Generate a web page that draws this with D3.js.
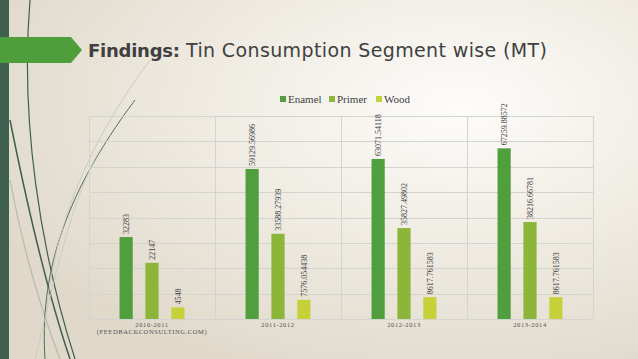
<!DOCTYPE html>
<html>
<head>
    <title>Tin Consumption Segment wise</title>
    <script src="https://cdnjs.cloudflare.com/ajax/libs/d3/7.8.5/d3.min.js"></script>
    <style>
        body { margin: 0; overflow: hidden; }
        svg { display: block; }
    </style>
</head>
<body>
    <div id="chart"></div>

    <script>
        // Data
        const years = ['2010-2011', '2011-2012', '2012-2013', '2013-2014'];
        const seriesNames = ['Enamel', 'Primer', 'Wood'];
        const enamel = [32283, 59129.56986, 63071.54118, 67259.88572];
        const primer = [22147, 33588.27939, 35827.49802, 38216.66781];
        const wood = [4548, 7576.054438, 8617.761583, 8617.761583];
        const valueLabels = [
            ['32283', '59129.56986', '63071.54118', '67259.88572'],
            ['22147', '33588.27939', '35827.49802', '38216.66781'],
            ['4548', '7576.054438', '8617.761583', '8617.761583']
        ];
        const yTicks = [0, 10000, 20000, 30000, 40000, 50000, 60000, 70000, 80000];

        const colors = {Enamel: '#519e3e', Primer: '#8cb63a', Wood: '#c6d13a'};
        const values = {Enamel: enamel, Primer: primer, Wood: wood};

        const width = 638;
        const height = 359;
        const plot = {left: 89, right: 593, top: 116, bottom: 319};

        const svg = d3.select('#chart')
            .append('svg')
            .attr('width', width)
            .attr('height', height);

        // Background
        const defs = svg.append('defs');
        const bg = defs.append('radialGradient')
            .attr('id', 'bg')
            .attr('cx', '0.72').attr('cy', '0.3').attr('r', '0.8');
        bg.append('stop').attr('offset', '0%').attr('stop-color', '#fdfcfa');
        bg.append('stop').attr('offset', '50%').attr('stop-color', '#efebe2');
        bg.append('stop').attr('offset', '100%').attr('stop-color', '#e0d9ca');
        svg.append('rect').attr('width', width).attr('height', height).attr('fill', 'url(#bg)');

        // Decorative curves on the left
        const curves = [
            {d: 'M 30 0 C 20 120, 40 250, 75 359', c: '#3f5f4f', w: 1.2},
            {d: 'M 10 120 C 30 220, 50 300, 70 359', c: '#3f5f4f', w: 1.5},
            {d: 'M 10 180 C 25 260, 45 320, 60 359', c: '#b8b8ac', w: 1.2},
            {d: 'M 45 359 C 40 280, 60 200, 135 100', c: '#3f5f4f', w: 0.9},
            {d: 'M 45 330 C 50 230, 90 140, 150 60', c: '#c8c6bc', w: 0.9},
            {d: 'M 35 359 C 50 300, 70 200, 100 150', c: '#c8c6bc', w: 0.8}
        ];
        svg.append('g').selectAll('path')
            .data(curves)
            .join('path')
            .attr('d', d => d.d)
            .attr('fill', 'none')
            .attr('stroke', d => d.c)
            .attr('stroke-width', d => d.w);

        // Left stripe and arrow banner
        svg.append('rect').attr('x', 0).attr('y', 0).attr('width', 9).attr('height', height).attr('fill', '#3f5f4f');
        svg.append('path')
            .attr('d', 'M 0 37 L 71 37 L 82 50 L 71 63 L 0 63 Z')
            .attr('fill', '#4f9e3c');

        // Title
        svg.append('text')
            .attr('x', 88)
            .attr('y', 57)
            .attr('font-family', 'DejaVu Sans, sans-serif')
            .attr('font-size', 18)
            .attr('font-weight', 'bold')
            .attr('fill', '#404040')
            .attr('textLength', 92)
            .text('Findings:');
        svg.append('text')
            .attr('x', 186)
            .attr('y', 57)
            .attr('font-family', 'DejaVu Sans, sans-serif')
            .attr('font-size', 19)
            .attr('fill', '#404040')
            .attr('textLength', 361)
            .text('Tin Consumption Segment wise (MT)');

        // Scales
        const x0 = d3.scaleBand()
            .domain(years)
            .range([plot.left, plot.right])
            .padding(0);

        const x1 = d3.scaleBand()
            .domain(seriesNames)
            .range([0, x0.bandwidth()])
            .paddingInner(0.49)
            .paddingOuter(1.18);

        const y = d3.scaleLinear()
            .domain([0, 80000])
            .range([plot.bottom, plot.top]);

        // Grid
        const grid = svg.append('g').attr('stroke', '#d3d3d0').attr('stroke-width', 1);
        grid.selectAll('line.h')
            .data(yTicks)
            .join('line')
            .attr('class', 'h')
            .attr('x1', plot.left).attr('x2', plot.right)
            .attr('y1', d => Math.round(y(d)) + 0.5)
            .attr('y2', d => Math.round(y(d)) + 0.5);
        grid.selectAll('line.v')
            .data(years.concat(['end']))
            .join('line')
            .attr('class', 'v')
            .attr('x1', (d, i) => Math.round(plot.left + i * x0.bandwidth()) + 0.5)
            .attr('x2', (d, i) => Math.round(plot.left + i * x0.bandwidth()) + 0.5)
            .attr('y1', plot.top).attr('y2', plot.bottom);

        // Bars
        const groups = svg.append('g')
            .selectAll('g')
            .data(years)
            .join('g')
            .attr('transform', d => `translate(${x0(d)},0)`);

        groups.selectAll('rect')
            .data((d, i) => seriesNames.map(s => ({s, v: values[s][i]})))
            .join('rect')
            .attr('x', d => x1(d.s))
            .attr('y', d => y(d.v))
            .attr('width', x1.bandwidth())
            .attr('height', d => y(0) - y(d.v))
            .attr('fill', d => colors[d.s]);

        // Value labels (rotated)
        groups.selectAll('text')
            .data((d, i) => seriesNames.map((s, k) => ({s, v: values[s][i], t: valueLabels[k][i]})))
            .join('text')
            .attr('transform', d => `translate(${x1(d.s) + x1.bandwidth() / 2 + 3},${y(d.v) - 3}) rotate(-90)`)
            .attr('font-family', 'Liberation Serif, serif')
            .attr('font-size', 8)
            .attr('fill', '#404040')
            .text(d => d.t);

        // Category labels
        const cat = svg.append('g')
            .attr('font-family', 'Liberation Serif, serif')
            .attr('font-size', 6.5)
            .attr('letter-spacing', 0.6)
            .attr('fill', '#505050')
            .attr('text-anchor', 'middle');
        cat.selectAll('text')
            .data(years)
            .join('text')
            .attr('x', d => x0(d) + x0.bandwidth() / 2)
            .attr('y', 327)
            .text(d => d);
        cat.append('text')
            .attr('x', x0(years[0]) + x0.bandwidth() / 2)
            .attr('y', 334)
            .text('(FEEDBACKCONSULTING.COM)');

        // Legend
        const legendX = [280, 329, 376];
        const legend = svg.append('g')
            .selectAll('g')
            .data(seriesNames)
            .join('g')
            .attr('transform', (d, i) => `translate(${legendX[i]},96)`);
        legend.append('rect')
            .attr('width', 6).attr('height', 6)
            .attr('fill', d => colors[d]);
        legend.append('text')
            .attr('x', 8).attr('y', 7)
            .attr('font-family', 'Liberation Serif, serif')
            .attr('font-size', 11)
            .attr('fill', '#404040')
            .text(d => d);
    </script>
</body>
</html>
